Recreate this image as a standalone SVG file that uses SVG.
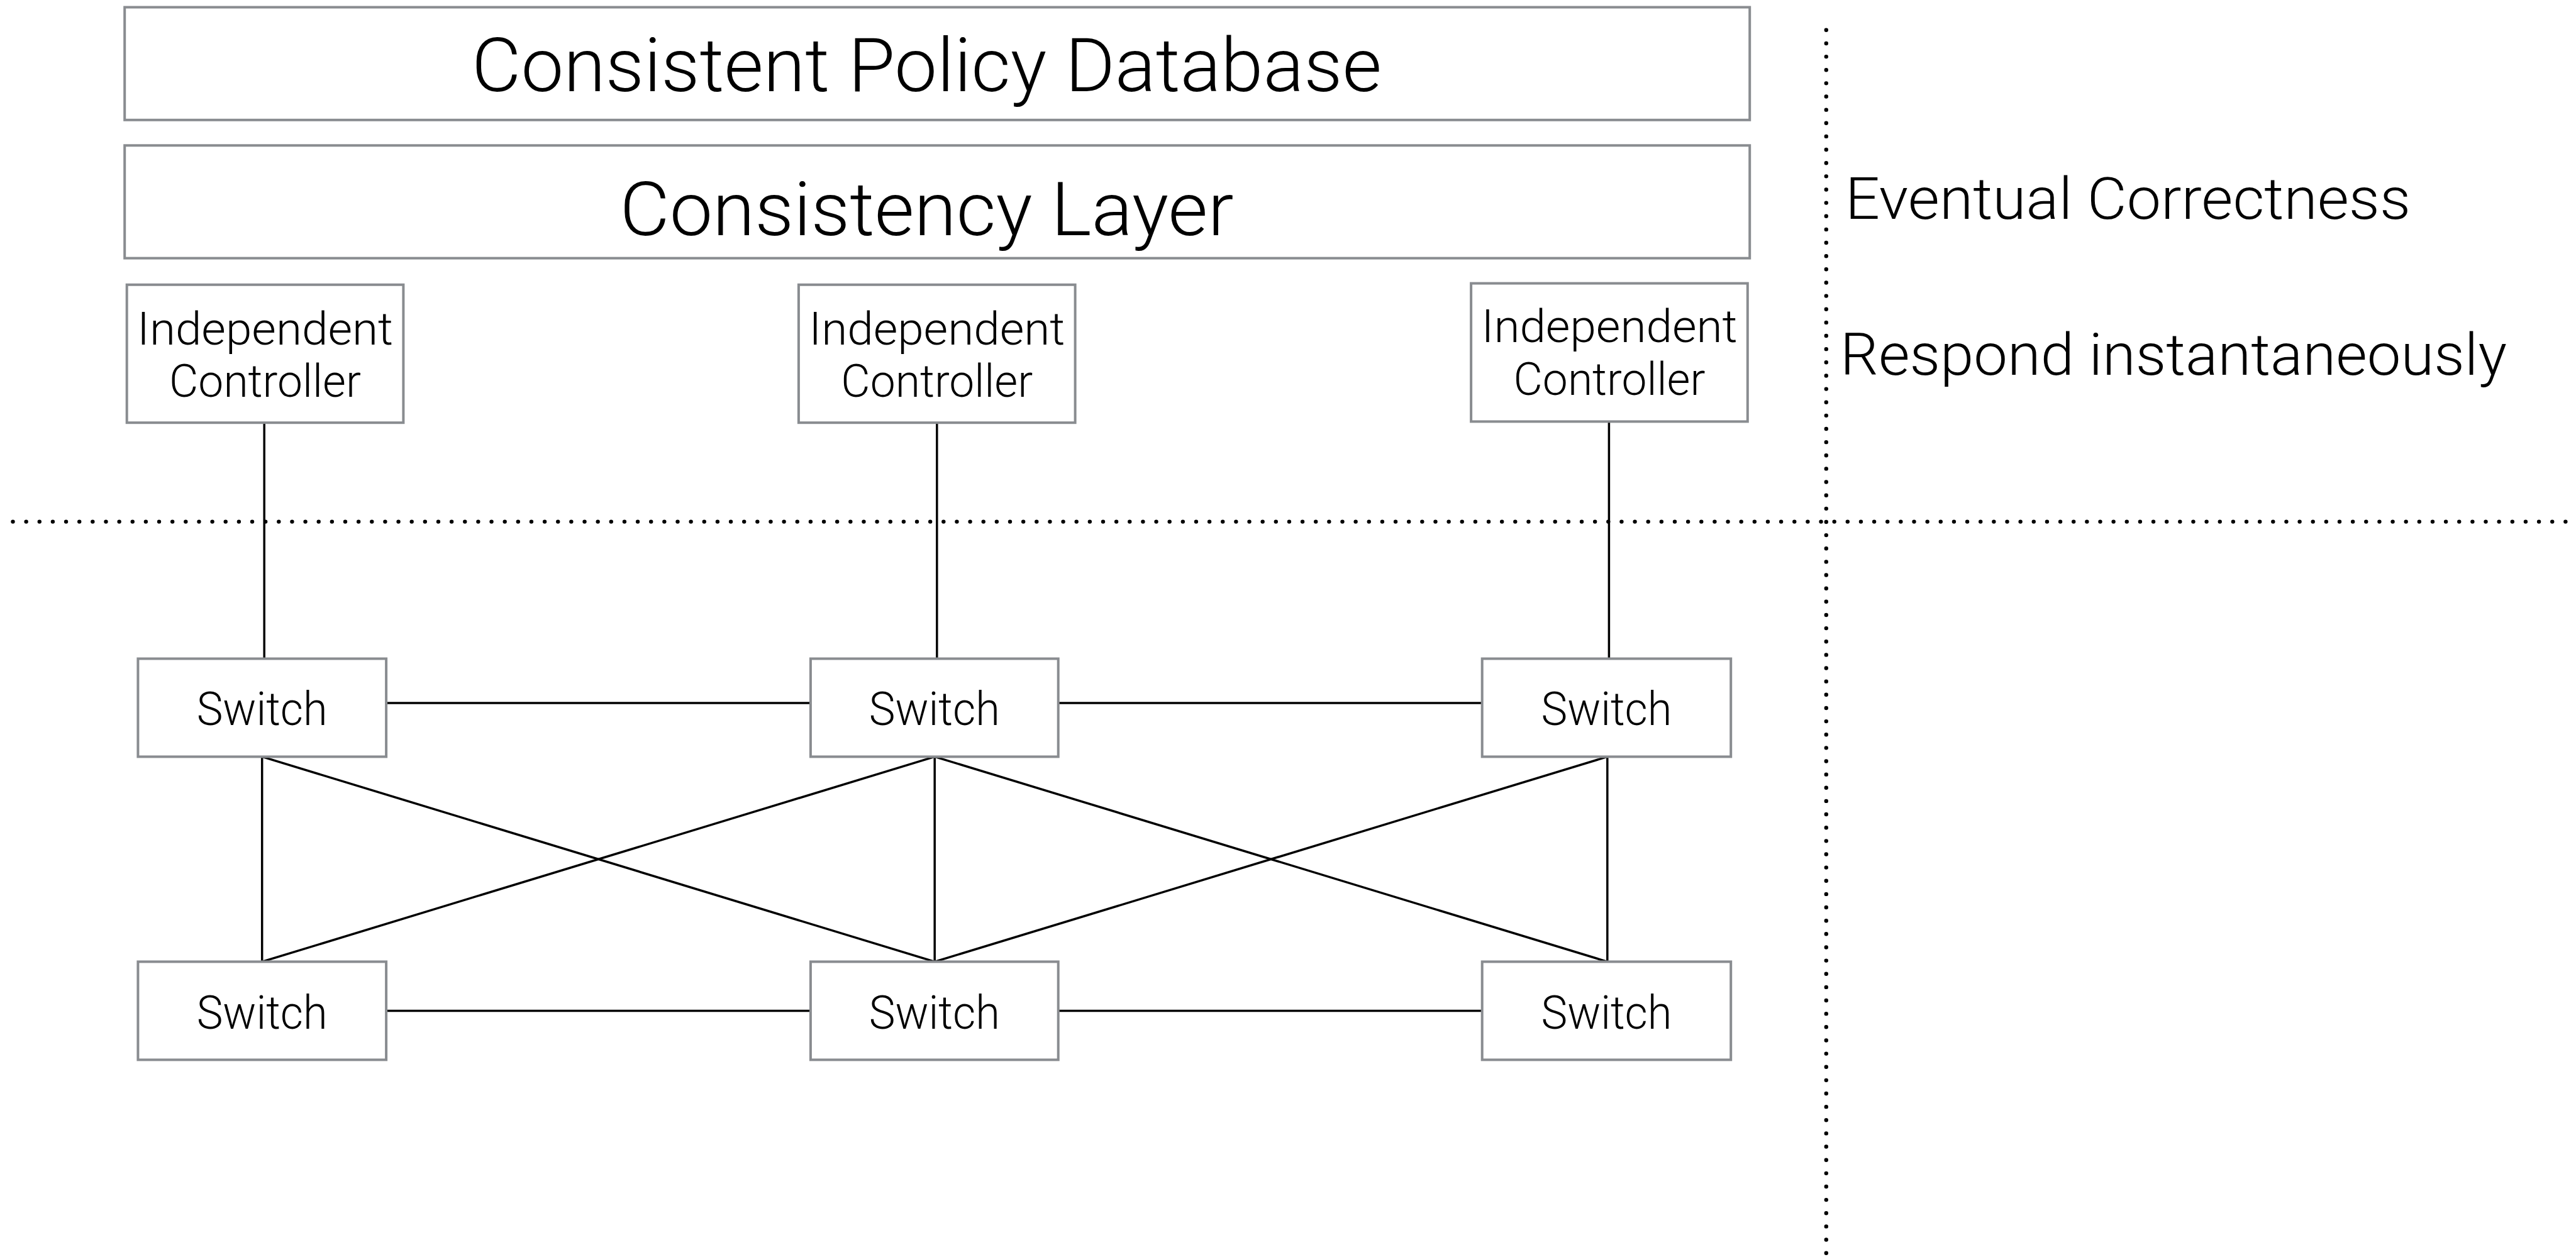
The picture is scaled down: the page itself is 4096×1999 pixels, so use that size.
<svg xmlns="http://www.w3.org/2000/svg" width="4096" height="1999" viewBox="0 0 4096 1999">
  <style>
    .box { fill: #ffffff; stroke: #898c90; stroke-width: 4; }
    .link { stroke: #000000; stroke-width: 3.5; fill: none; stroke-linecap: butt; }
    .dots { stroke: #000000; stroke-width: 6.4; fill: none; stroke-linecap: round; stroke-dasharray: 0 21.14; }
    .lbl { font-family: Roboto, "Liberation Sans", sans-serif; font-weight: 300; fill: #000000; }
    .big { font-size: 119px; text-anchor: middle; }
    .side { font-size: 92px; }
    .ctl { font-size: 73px; text-anchor: middle; }
    .sw { font-size: 74px; text-anchor: middle; }
  </style>
  <rect width="4096" height="1999" fill="#ffffff"/>

  <!-- dotted separators -->
  <g id="separators">
    <line class="dots" x1="20.5" y1="829.6" x2="4096" y2="829.6"/>
    <line class="dots" x1="2903.8" y1="47.8" x2="2903.8" y2="1999"/>
  </g>

  <!-- links between controllers and switches -->
  <g id="connectors">
    <line class="link" x1="420.2" y1="672.2" x2="420.2" y2="1047.5"/>
    <line class="link" x1="1489.8" y1="672.2" x2="1489.8" y2="1047.5"/>
    <line class="link" x1="2558.4" y1="670.4" x2="2558.4" y2="1047.5"/>
    <line class="link" x1="614.1" y1="1118" x2="1288.9" y2="1118"/>
    <line class="link" x1="1682.7" y1="1118" x2="2356.7" y2="1118"/>
    <line class="link" x1="614.1" y1="1607.4" x2="1288.9" y2="1607.4"/>
    <line class="link" x1="1682.7" y1="1607.4" x2="2356.7" y2="1607.4"/>
    <line class="link" x1="416.7" y1="1203.4" x2="416.7" y2="1529.4"/>
    <line class="link" x1="1486.2" y1="1203.4" x2="1486.2" y2="1529.4"/>
    <line class="link" x1="2555.8" y1="1203.4" x2="2555.8" y2="1529.4"/>
    <line class="link" x1="416.7" y1="1203.4" x2="1486.2" y2="1529.4"/>
    <line class="link" x1="416.7" y1="1529.4" x2="1486.2" y2="1203.4"/>
    <line class="link" x1="1486.2" y1="1203.4" x2="2555.8" y2="1529.4"/>
    <line class="link" x1="1486.2" y1="1529.4" x2="2555.8" y2="1203.4"/>
  </g>

  <g id="policy-db">
    <rect class="box" x="198.2" y="11.5" width="2584" height="179.3"/>
    <text class="lbl big" x="1473.5" y="145.4" textLength="1447" lengthAdjust="spacingAndGlyphs">Consistent Policy Database</text>
  </g>

  <g id="consistency-layer">
    <rect class="box" x="198.2" y="231.3" width="2584" height="179.3"/>
    <text class="lbl big" x="1473.5" y="374.4" textLength="976" lengthAdjust="spacingAndGlyphs">Consistency Layer</text>
  </g>

  <g id="controller-1">
    <rect class="box" x="201.7" y="452.8" width="439.7" height="219.4"/>
    <text class="lbl ctl" x="421.5" y="547.7" textLength="407" lengthAdjust="spacingAndGlyphs">Independent</text>
    <text class="lbl ctl" x="421.5" y="631.4" textLength="305" lengthAdjust="spacingAndGlyphs">Controller</text>
  </g>

  <g id="controller-2">
    <rect class="box" x="1269.9" y="452.8" width="439.7" height="219.4"/>
    <text class="lbl ctl" x="1489.8" y="547.7" textLength="407" lengthAdjust="spacingAndGlyphs">Independent</text>
    <text class="lbl ctl" x="1489.8" y="631.4" textLength="305" lengthAdjust="spacingAndGlyphs">Controller</text>
  </g>

  <g id="controller-3">
    <rect class="box" x="2339.1" y="450.6" width="439.7" height="219.8"/>
    <text class="lbl ctl" x="2559" y="543.8" textLength="407" lengthAdjust="spacingAndGlyphs">Independent</text>
    <text class="lbl ctl" x="2559" y="628.4" textLength="305" lengthAdjust="spacingAndGlyphs">Controller</text>
  </g>

  <g id="switch-top-1">
    <rect class="box" x="219.4" y="1047.5" width="394.7" height="155.9"/>
    <text class="lbl sw" x="416.7" y="1153.2" textLength="208" lengthAdjust="spacingAndGlyphs">Switch</text>
  </g>
  <g id="switch-top-2">
    <rect class="box" x="1288.9" y="1047.5" width="393.8" height="155.9"/>
    <text class="lbl sw" x="1485.8" y="1153.2" textLength="208" lengthAdjust="spacingAndGlyphs">Switch</text>
  </g>
  <g id="switch-top-3">
    <rect class="box" x="2356.7" y="1047.5" width="395.5" height="155.9"/>
    <text class="lbl sw" x="2554.5" y="1153.2" textLength="208" lengthAdjust="spacingAndGlyphs">Switch</text>
  </g>
  <g id="switch-bottom-1">
    <rect class="box" x="219.4" y="1529.4" width="394.7" height="156"/>
    <text class="lbl sw" x="416.7" y="1636" textLength="208" lengthAdjust="spacingAndGlyphs">Switch</text>
  </g>
  <g id="switch-bottom-2">
    <rect class="box" x="1288.9" y="1529.4" width="393.8" height="156"/>
    <text class="lbl sw" x="1485.8" y="1636" textLength="208" lengthAdjust="spacingAndGlyphs">Switch</text>
  </g>
  <g id="switch-bottom-3">
    <rect class="box" x="2356.7" y="1529.4" width="395.5" height="156"/>
    <text class="lbl sw" x="2554.5" y="1636" textLength="208" lengthAdjust="spacingAndGlyphs">Switch</text>
  </g>

  <g id="notes">
    <text class="lbl side" x="2934" y="348" textLength="899" lengthAdjust="spacingAndGlyphs">Eventual Correctness</text>
    <text class="lbl side" x="2926" y="595.6" textLength="1060" lengthAdjust="spacingAndGlyphs">Respond instantaneously</text>
  </g>
</svg>
